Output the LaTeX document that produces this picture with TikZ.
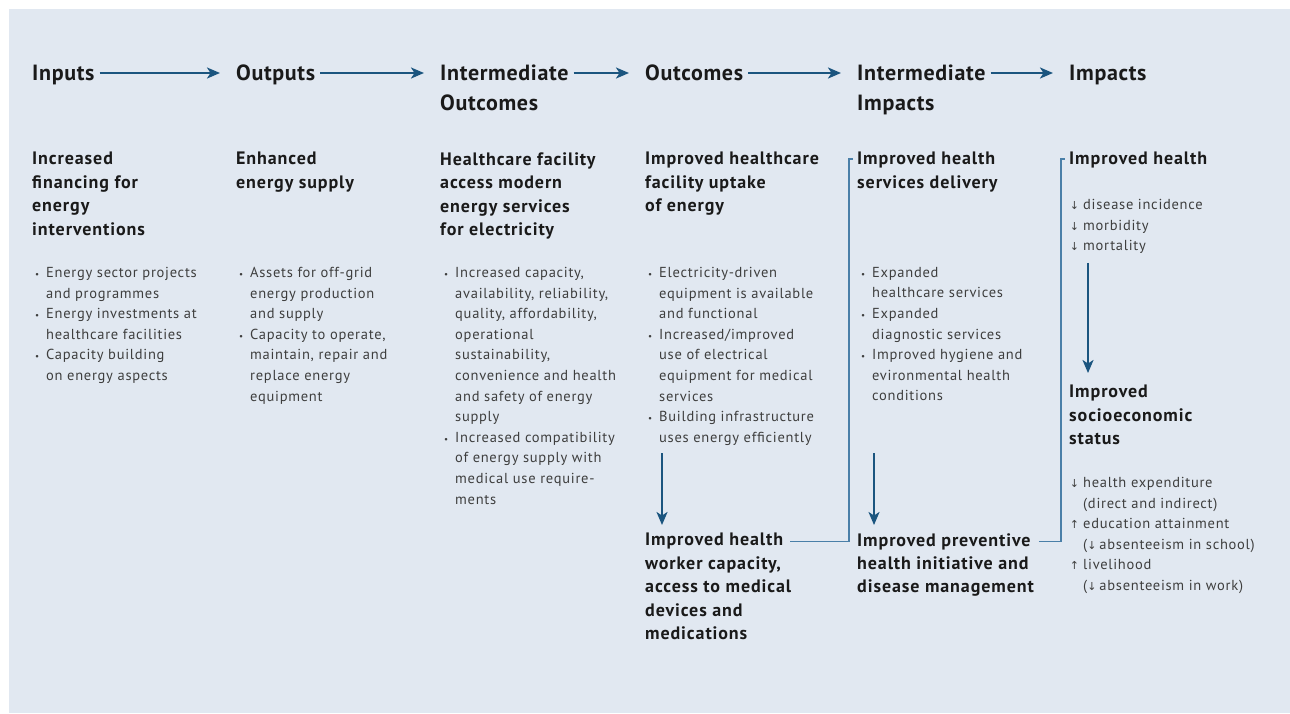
\documentclass[tikz,border=0pt]{standalone}
\usepackage{fontspec}
\setmainfont{PT Sans}
\newfontfamily\symfont{DejaVu Sans}
\usetikzlibrary{arrows.meta,positioning}

\definecolor{panel}{HTML}{E1E8F1}
\definecolor{flowblue}{HTML}{1B557F}
\definecolor{linkblue}{HTML}{4A7FA8}
\definecolor{bodygray}{HTML}{3E3E3E}
\definecolor{headink}{HTML}{1A1A1A}

% bullets and trend arrows hang left of the text
\newcommand{\bul}{\llap{{\fontsize{9}{9}\selectfont\textbullet}\hspace{7pt}}}
\newcommand{\arrdn}{\llap{{\symfont\fontsize{11}{11}\selectfont\char"2193}\hspace{4pt}}}
\newcommand{\arrup}{\llap{{\symfont\fontsize{11}{11}\selectfont\char"2191}\hspace{4pt}}}
\newcommand{\lessdn}{{\symfont\fontsize{11}{11}\selectfont\char"2193}}

\tikzset{
  stage/.style={anchor=north west, inner sep=0pt, align=left, text=headink,
    font=\fontsize{22}{30}\selectfont\bfseries\addfontfeature{LetterSpace=3}},
  result/.style={anchor=north west, inner sep=0pt, align=left, text=headink,
    font=\fontsize{18}{23.5}\selectfont\bfseries\addfontfeature{LetterSpace=5}},
  items/.style={anchor=north west, inner sep=0pt, align=left, text=bodygray,
    font=\fontsize{14.5}{20.6}\selectfont\addfontfeature{LetterSpace=5}},
  flow/.style={draw=flowblue, line width=2.2pt,
    -{Stealth[length=13pt, width=11pt, inset=3.5pt]}},
  link/.style={draw=linkblue, line width=1.4pt},
}

\begin{document}
\begin{tikzpicture}[x=1pt, y=-1pt]
  \useasboundingbox (0,0) rectangle (1290,713);
  \fill[panel] (9,9) rectangle (1290,713);

  % stage headings
  \node[stage] (inp)    at (32,65)   {Inputs};
  \node[stage] (outp)   at (236,65)  {Outputs};
  \node[stage] (midout) at (440,65)  {Intermediate\\Outcomes};
  \node[stage] (outc)   at (645,65)  {Outcomes};
  \node[stage] (midimp) at (857,65)  {Intermediate\\Impacts};
  \node[stage] (imp)    at (1069,65) {Impacts};

  \foreach \a/\b in {inp/outp, outp/midout, midout/outc, outc/midimp, midimp/imp}
    \draw[flow] ([shift={(5pt,-8pt)}]\a.north east) -- ([shift={(-16pt,-8pt)}]\b.north west);

  % results per stage
  \node[result] (fin)  at (32,152)   {Increased\\financing for\\energy\\interventions};
  \node[result] (sup)  at (236,152)  {Enhanced\\energy supply};
  \node[result] (acc)  at (440,152)  {Healthcare facility\\access modern\\energy services\\for electricity};
  \node[result] (upt)  at (645,152)  {Improved healthcare\\facility uptake\\of energy};
  \node[result] (sv)   at (857,152)  {Improved health\\services delivery};
  \node[result] (hlth) at (1069,152) {Improved health};

  \node[items] (finlist) at (46,267) {\bul Energy sector projects\\and programmes\\
    \bul Energy investments at\\healthcare facilities\\
    \bul Capacity building\\on energy aspects};
  \node[items] (suplist) at (250,267) {\bul Assets for off-grid\\energy production\\and supply\\
    \bul Capacity to operate,\\maintain, repair and\\replace energy\\equipment};
  \node[items] (acclist) at (455,267) {\bul Increased capacity,\\availability, reliability,\\
    quality, affordability,\\operational\\sustainability,\\convenience and health\\
    and safety of energy\\supply\\
    \bul Increased compatibility\\of energy supply with\\medical use require-\\ments};
  \node[items] (uptlist) at (659,267) {\bul Electricity-driven\\equipment is available\\and functional\\
    \bul Increased/improved\\use of electrical\\equipment for medical\\services\\
    \bul Building infrastructure\\uses energy efficiently};
  \node[items] (svlist) at (872,267) {\bul Expanded\\healthcare services\\
    \bul Expanded\\diagnostic services\\
    \bul Improved hygiene and\\evironmental health\\conditions};

  \node[items] (hlist) at (1083,199) {\arrdn disease incidence\\\arrdn morbidity\\\arrdn mortality};
  \node[result] (socio) at (1069,385) {Improved\\socioeconomic\\status};
  \node[items] (slist) at (1083,477) {\arrdn health expenditure\\(direct and indirect)\\
    \arrup education attainment\\(\lessdn\kern3pt absenteeism in school)\\
    \arrup livelihood\\(\lessdn\kern3pt absenteeism in work)};

  % second row of results
  \node[result] (wkr)   at (645,533) {Improved health};
  \node[result] (wkr2)  at (645,556) {worker capacity,\\access to medical\\devices and\\medications};
  \node[result] (prev)  at (857,533) {Improved preventive};
  \node[result] (prev2) at (857,556) {health initiative and\\disease management};

  \draw[flow] ([shift={(17pt,80pt)}]wkr.north west) -- ([shift={(17pt,8pt)}]wkr.north west);
  \draw[flow] ([shift={(17pt,80pt)}]prev.north west) -- ([shift={(17pt,8pt)}]prev.north west);
  \draw[flow, shorten <=9pt, shorten >=12pt] ([xshift=19pt]hlist.south -| socio.west) -- ([xshift=19pt]socio.north west);

  % brackets feeding the impacts
  \draw[link] ([xshift=7pt]wkr.east) -| ([shift={(-8pt,-7pt)}]sv.north west) -- ([shift={(-4pt,-7pt)}]sv.north west);
  \draw[link] ([xshift=8pt]prev.east) -| ([shift={(-8pt,-7pt)}]hlth.north west) -- ([shift={(-4pt,-7pt)}]hlth.north west);
\end{tikzpicture}
\end{document}
